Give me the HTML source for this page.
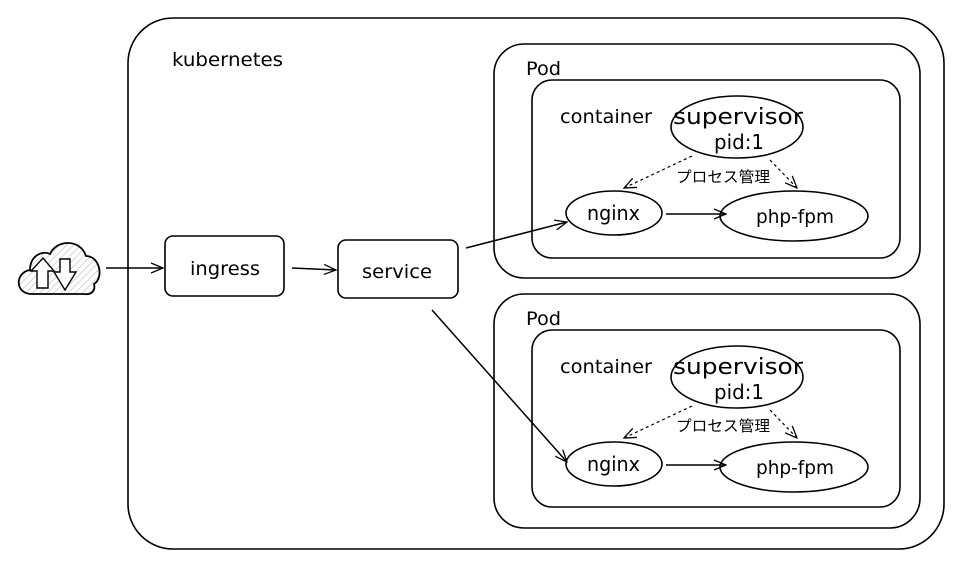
<!DOCTYPE html>
<html><head><meta charset="utf-8"><style>
body{margin:0;background:#fff}
text{font-family:"DejaVu Sans","Liberation Sans","Noto Sans CJK JP",sans-serif;fill:#000}
</style></head><body>
<svg width="959" height="564" viewBox="0 0 959 564" xmlns="http://www.w3.org/2000/svg">
<defs>
<marker id="a" markerWidth="14" markerHeight="12" refX="13" refY="6" orient="auto" markerUnits="userSpaceOnUse">
<path d="M1,1 L13,6 L1,11" fill="none" stroke="#000" stroke-width="1.3"/></marker>
<pattern id="h" width="5" height="5" patternUnits="userSpaceOnUse" patternTransform="rotate(45)">
<line x1="0" y1="0" x2="0" y2="5" stroke="#bbb" stroke-width="1.2"/></pattern>
</defs>
<g fill="none" stroke="#000" stroke-width="1.6">
<rect x="128" y="18" width="816" height="531" rx="45"/>
<rect x="494" y="44" width="426" height="234" rx="30"/>
<rect x="532" y="80" width="368" height="178" rx="20"/>
<rect x="494" y="294" width="426" height="234" rx="30"/>
<rect x="532" y="330" width="368" height="177" rx="20"/>
<rect x="165" y="236" width="119" height="60" rx="8"/>
<rect x="338" y="240" width="120" height="58" rx="8"/>
<ellipse cx="737" cy="127" rx="66" ry="31"/>
<ellipse cx="614" cy="213" rx="48" ry="22"/>
<ellipse cx="794" cy="216" rx="74" ry="25"/>
<ellipse cx="737" cy="377" rx="66" ry="31"/>
<ellipse cx="614" cy="464" rx="48" ry="22"/>
<ellipse cx="794" cy="467" rx="74" ry="25"/>
</g>
<g fill="none" stroke="#000" stroke-width="1.5">
<line x1="106" y1="268" x2="163" y2="268" marker-end="url(#a)"/>
<line x1="292" y1="268" x2="336" y2="270" marker-end="url(#a)"/>
<line x1="466" y1="248" x2="567" y2="222" marker-end="url(#a)"/>
<line x1="432" y1="310" x2="567" y2="462" marker-end="url(#a)"/>
<line x1="666" y1="214" x2="726" y2="214" marker-end="url(#a)"/>
<line x1="666" y1="465" x2="726" y2="465" marker-end="url(#a)"/>
</g>
<g fill="none" stroke="#000" stroke-width="1.2" stroke-dasharray="3,3">
<line x1="692" y1="156" x2="624" y2="188" marker-end="url(#a)"/>
<line x1="770" y1="160" x2="797" y2="188" marker-end="url(#a)"/>
<line x1="692" y1="406" x2="624" y2="438" marker-end="url(#a)"/>
<line x1="770" y1="410" x2="797" y2="438" marker-end="url(#a)"/>
</g>
<path d="M30,294 C14,292 16,272 30,270 C30,256 42,250 50,254 C56,240 80,238 86,256 C100,256 104,278 94,284 C96,292 90,295 84,294 Z" fill="url(#h)" stroke="#000" stroke-width="1.8"/>
<path d="M37,288 L37,271 L31,271 L43,258 L54,271 L48,271 L48,288 Z M60,259 L70,259 L70,272 L76,272 L65,290 L54,272 L60,272 Z" fill="#fff" stroke="#000" stroke-width="1.4"/>
<g font-size="19">
<text x="172" y="66" textLength="111" lengthAdjust="spacingAndGlyphs">kubernetes</text>
<text x="526" y="75" textLength="35" lengthAdjust="spacingAndGlyphs">Pod</text>
<text x="526" y="325" textLength="35" lengthAdjust="spacingAndGlyphs">Pod</text>
<text x="560" y="123" textLength="92" lengthAdjust="spacingAndGlyphs">container</text>
<text x="560" y="373" textLength="92" lengthAdjust="spacingAndGlyphs">container</text>
<text x="190" y="275" textLength="70" lengthAdjust="spacingAndGlyphs">ingress</text>
<text x="362" y="278" textLength="70" lengthAdjust="spacingAndGlyphs">service</text>
<text x="673" y="124" font-size="22" textLength="130" lengthAdjust="spacingAndGlyphs">supervisor</text>
<text x="714" y="149" font-size="20" textLength="50" lengthAdjust="spacingAndGlyphs">pid:1</text>
<text x="587" y="220" font-size="20" textLength="53" lengthAdjust="spacingAndGlyphs">nginx</text>
<text x="756" y="223" textLength="78" lengthAdjust="spacingAndGlyphs">php-fpm</text>
<text x="673" y="374" font-size="22" textLength="130" lengthAdjust="spacingAndGlyphs">supervisor</text>
<text x="714" y="399" font-size="20" textLength="50" lengthAdjust="spacingAndGlyphs">pid:1</text>
<text x="587" y="471" font-size="20" textLength="53" lengthAdjust="spacingAndGlyphs">nginx</text>
<text x="756" y="474" textLength="78" lengthAdjust="spacingAndGlyphs">php-fpm</text>
</g>
<text x="676" y="182" font-size="15" textLength="94" lengthAdjust="spacingAndGlyphs">プロセス管理</text>
<text x="676" y="431" font-size="15" textLength="94" lengthAdjust="spacingAndGlyphs">プロセス管理</text>
</svg>
</body></html>
